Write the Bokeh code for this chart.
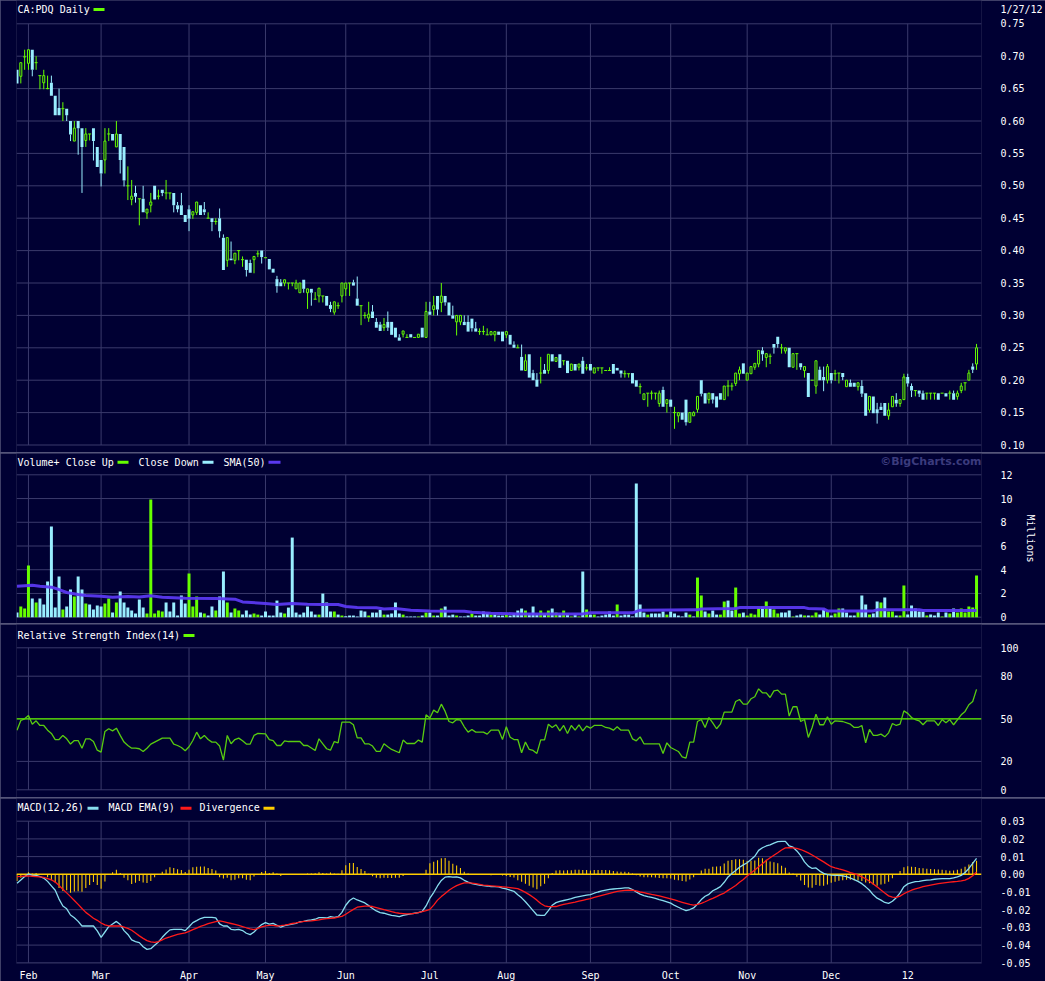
import numpy as np
from bokeh.plotting import figure
from bokeh.layouts import column
from bokeh.models import Range1d, FixedTicker, NumeralTickFormatter, Label, BoxAnnotation
from bokeh.embed import file_html
from bokeh.resources import INLINE

# ---------------- data ----------------
month_idx = [3, 22, 45, 65, 86, 108, 128, 150, 171, 191, 213, 233]
month_lab = ["Feb", "Mar", "Apr", "May", "Jun", "Jul", "Aug", "Sep", "Oct", "Nov", "Dec", "12"]
last_date = "1/27/12"

opens = [
.679,.669,.699,.689,.710,.690,.670,.659,.650,.659,
.639,.620,.619,.619,.600,.569,.600,.589,.570,.580,
.589,.560,.540,.540,.580,.580,.560,.580,.560,.500,
.479,.489,.480,.480,.458,.470,.500,.484,.494,.489,
.489,.489,.470,.470,.455,.464,.455,.459,.470,.464,
.450,.450,.445,.450,.420,.385,.388,.385,.400,.386,
.386,.381,.386,.395,.400,.389,.387,.372,.356,.351,
.350,.350,.350,.341,.335,.355,.335,.341,.325,.330,
.330,.330,.316,.305,.315,.330,.341,.350,.351,.326,
.315,.300,.296,.306,.290,.286,.281,.290,.290,.281,
.266,.271,.266,.271,.266,.266,.281,.266,.306,.309,
.330,.320,.330,.320,.300,.290,.290,.290,.290,.295,
.280,.275,.275,.270,.270,.270,.275,.275,.270,.270,
.255,.250,.236,.215,.240,.211,.201,.211,.216,.215,
.240,.229,.240,.230,.230,.215,.225,.220,.230,.219,
.225,.211,.219,.219,.215,.215,.225,.219,.215,.210,
.210,.211,.200,.190,.170,.180,.180,.180,.164,.185,
.164,.170,.150,.145,.150,.170,.135,.145,.155,.200,
.180,.170,.180,.175,.180,.170,.191,.191,.195,.210,
.226,.200,.210,.220,.225,.246,.235,.237,.256,.267,
.250,.245,.250,.220,.241,.226,.215,.211,.200,.191,
.216,.205,.200,.211,.210,.211,.211,.190,.196,.196,
.190,.191,.180,.154,.175,.155,.159,.165,.145,.159,
.170,.164,.170,.205,.191,.184,.184,.180,.180,.180,
.180,.180,.180,.180,.180,.180,.175,.184,.196,.200,
.221,.225]

highs = [
.679,.690,.710,.710,.710,.700,.670,.679,.670,.670,
.639,.650,.629,.619,.600,.600,.600,.589,.589,.580,
.589,.560,.540,.589,.589,.580,.600,.580,.560,.530,
.509,.500,.480,.500,.464,.489,.500,.494,.494,.509,
.489,.489,.475,.489,.455,.470,.460,.475,.470,.475,
.459,.450,.450,.465,.425,.420,.414,.396,.400,.391,
.386,.386,.391,.400,.400,.389,.387,.372,.361,.356,
.355,.350,.350,.355,.350,.355,.341,.341,.336,.342,
.330,.330,.321,.321,.320,.350,.350,.350,.355,.360,
.315,.305,.321,.316,.296,.290,.296,.306,.290,.281,
.271,.276,.271,.271,.266,.271,.281,.321,.321,.330,
.330,.350,.330,.320,.315,.300,.300,.300,.300,.295,
.290,.280,.284,.280,.275,.275,.275,.275,.275,.270,
.260,.255,.255,.240,.240,.216,.211,.236,.225,.240,
.240,.235,.240,.230,.230,.225,.225,.225,.236,.225,
.225,.219,.219,.219,.215,.220,.225,.219,.215,.215,
.210,.211,.200,.195,.179,.180,.184,.180,.184,.190,
.170,.170,.159,.150,.150,.170,.150,.152,.175,.200,
.180,.180,.180,.175,.180,.191,.200,.196,.211,.221,
.226,.211,.221,.226,.246,.251,.241,.241,.256,.267,
.256,.250,.250,.241,.241,.226,.221,.211,.200,.230,
.221,.221,.225,.211,.216,.211,.211,.200,.201,.196,
.196,.200,.180,.175,.175,.165,.165,.165,.165,.175,
.180,.170,.210,.210,.195,.184,.184,.184,.180,.180,
.180,.180,.180,.180,.184,.184,.184,.196,.196,.216,
.226,.256]

lows = [
.658,.658,.679,.679,.669,.679,.649,.649,.649,.639,
.609,.609,.600,.600,.569,.569,.548,.489,.560,.570,
.539,.529,.499,.519,.569,.570,.560,.519,.499,.478,
.470,.474,.439,.459,.449,.459,.479,.479,.484,.479,
.479,.459,.459,.455,.444,.430,.449,.455,.455,.455,
.450,.430,.440,.420,.370,.375,.385,.379,.385,.375,
.360,.366,.365,.390,.380,.389,.371,.366,.335,.345,
.345,.340,.345,.341,.335,.335,.310,.315,.325,.320,
.320,.315,.305,.301,.310,.320,.330,.330,.346,.315,
.285,.295,.290,.296,.281,.276,.276,.276,.270,.266,
.261,.266,.266,.266,.266,.266,.266,.266,.301,.300,
.300,.305,.315,.300,.295,.269,.285,.285,.275,.275,
.275,.270,.270,.270,.270,.260,.270,.260,.265,.255,
.250,.250,.215,.215,.204,.200,.190,.195,.210,.210,
.229,.229,.219,.223,.211,.215,.215,.215,.210,.215,
.215,.211,.214,.210,.215,.215,.210,.215,.204,.204,
.204,.195,.190,.179,.170,.159,.170,.170,.159,.159,
.150,.159,.125,.135,.139,.130,.135,.145,.150,.175,
.164,.164,.164,.158,.170,.170,.175,.184,.191,.200,
.210,.200,.210,.216,.220,.230,.220,.225,.241,.250,
.241,.241,.220,.220,.216,.216,.204,.174,.200,.179,
.200,.183,.195,.195,.199,.195,.200,.190,.190,.190,
.184,.174,.145,.150,.149,.133,.154,.145,.139,.159,
.159,.159,.170,.190,.174,.175,.174,.170,.170,.170,
.170,.170,.180,.175,.170,.170,.170,.180,.184,.200,
.211,.216]

closes = [
.658,.690,.699,.710,.679,.690,.670,.670,.650,.639,
.609,.609,.619,.609,.579,.589,.589,.560,.580,.580,
.569,.529,.519,.569,.580,.570,.580,.540,.508,.500,
.484,.483,.480,.459,.464,.475,.479,.484,.489,.489,
.489,.470,.464,.455,.444,.449,.460,.475,.455,.459,
.450,.444,.445,.430,.370,.420,.385,.396,.400,.386,
.370,.366,.391,.395,.390,.389,.371,.366,.345,.345,
.355,.350,.350,.350,.350,.341,.341,.335,.325,.342,
.330,.315,.310,.321,.315,.350,.350,.350,.346,.315,
.315,.300,.302,.296,.281,.276,.286,.281,.270,.266,
.261,.276,.266,.266,.266,.271,.266,.306,.301,.315,
.309,.330,.320,.300,.295,.300,.300,.285,.275,.280,
.275,.275,.275,.270,.275,.275,.270,.260,.275,.255,
.250,.250,.215,.230,.204,.200,.190,.211,.210,.240,
.229,.235,.219,.230,.211,.225,.215,.225,.210,.219,
.215,.219,.219,.219,.215,.215,.210,.215,.210,.210,
.210,.195,.190,.190,.179,.180,.180,.180,.180,.159,
.170,.159,.150,.150,.139,.135,.150,.150,.175,.179,
.164,.180,.170,.158,.170,.191,.191,.191,.211,.216,
.210,.211,.221,.226,.246,.240,.241,.237,.250,.256,
.250,.250,.220,.241,.241,.220,.221,.174,.200,.230,
.200,.200,.221,.200,.210,.211,.205,.200,.190,.190,
.196,.179,.145,.175,.149,.149,.154,.145,.154,.175,
.164,.170,.205,.195,.184,.184,.179,.170,.180,.180,
.180,.170,.180,.175,.180,.170,.180,.191,.196,.211,
.216,.250]

# volume in millions of shares
volume = [
.39,.90,.73,4.35,1.57,1.24,1.57,1.07,3.0,7.64,
.81,3.43,.65,.90,2.33,1.74,3.43,2.33,1.15,1.07,
.65,.98,.90,1.15,1.57,.39,1.24,2.16,1.24,.81,
.56,.31,1.49,.81,.31,9.92,.31,.56,.48,1.24,
.48,1.24,.14,1.83,1.15,3.68,.90,1.74,.39,.31,
.14,.90,.56,1.74,3.85,1.24,.39,.73,.56,.22,
.56,.22,.31,.22,.14,.48,.14,.14,1.40,.39,
.31,.81,6.71,.39,.22,.39,.90,.48,.22,.22,
1.99,1.24,.48,.48,.22,.14,.08,.14,.14,.06,
.56,.48,.14,.39,.39,.62,.22,.22,.31,1.24,
.31,.22,.06,.06,.06,.06,.14,.39,.39,.14,
.14,.73,.90,.14,.22,.14,.06,.06,.14,.31,
.14,.14,.48,.31,.22,.22,.14,.14,.22,.14,
.31,.56,.73,.56,.31,.90,.22,.56,.22,.56,
.73,.39,.22,.56,.22,.06,.22,.06,3.85,.65,
.22,.22,.06,.14,.22,.48,.14,1.07,.14,.22,
.22,.06,11.26,1.07,.39,.22,.31,.31,.31,.48,
.22,.48,.31,.14,.06,.39,.22,.06,3.34,1.83,
.48,.31,.56,.22,.22,1.32,1.40,.56,2.50,.31,
.39,.14,.31,.22,.81,.90,1.32,.81,.65,.31,
.39,.39,.56,.06,.14,.22,.14,.14,.14,.39,
.22,.65,.48,.14,.31,.73,.73,.39,.14,.14,
.48,1.83,1.07,.22,.31,1.32,1.24,1.66,.48,.48,
.14,.14,2.67,.22,.98,.73,.48,.48,.14,.22,
.14,.39,.06,.39,.31,.73,.39,.73,.39,.90,
.81,3.51]

# 50-day volume SMA, read at its turning points (day index, millions)
sma_day = [0, 4, 6, 9, 11, 13, 16, 18, 22, 25, 29, 32, 35, 38, 44, 52, 57, 59, 65, 68,
           72, 76, 80, 84, 86, 89, 94, 96, 99, 103, 108, 117, 119, 124, 131, 148, 150, 161, 163, 178,
           179, 188, 189, 206, 207, 211, 212, 224, 225, 236, 237, 251]
sma_val = [2.61, 2.70, 2.61, 2.53, 2.33, 2.08, 1.91, 1.83, 1.77, 1.69, 1.74, 1.71, 1.80, 1.69, 1.60, 1.57, 1.52, 1.29, 1.15, 1.07,
           1.15, 1.10, 1.07, 1.07, 0.90, 0.81, 0.79, 0.70, 0.73, 0.59, 0.53, 0.51, 0.42, 0.34, 0.28, 0.28, 0.37, 0.37, 0.59, 0.62,
           0.70, 0.73, 0.81, 0.81, 0.73, 0.70, 0.53, 0.53, 0.62, 0.62, 0.56, 0.56]

# RSI(14) vertices (day index, value)
rsi_day = [0,1,2,3,4,5,6,7,8,9, 10,11,12,13,14,15,16,17,18,19, 20,21,22,23,24,25,26,27,28,29,
           30,31,32,33,34,35,36,37,38,40, 41,42,43,44,45,46,47,48,49,50, 51,52,53,54,55,56,57,58,59,60,
           61,62,63,65,66,67,68,69,70,71, 74,75,76,78,79,80,81,82,83,84, 85,87,88,89,90,91,92,93,94,95,
           96,97,98,100,101,102,104,105,106,107, 108,109,110,111,112,113,114,115,116,117,
           118,119,120,122,123,124,126,127,128,129, 130,131,132,133,134,135,136,137,138,139,
           140,141,142,143,144,145,146,147,148,149, 150,151,153,154,155,156,157,158,160,161,
           162,163,164,168,169,170,171,173,174,175, 176,177,178,179,180,181,182,183,184,185,
           187,188,189,190,191,192,193,194,195,196, 197,198,199,200,201,202,203,204,205,206,
           207,208,209,210,211,212,213,214,216,218, 219,220,221,222,223,224,225,226,227,228,
           229,230,231,232,233,234,235,236,237,238, 240,241,242,243,244,245,247,248,249,250, 251]
rsi_val = [42.0,48.8,50.0,52.3,46.2,48.6,45.3,45.3,42.0,39.7, 35.4,35.4,38.3,35.9,32.2,34.7,34.7,29.3,35.9,35.9,
           34.0,27.9,26.5,41.1,43.0,41.5,43.4,38.3,33.6,31.2, 29.3,29.3,28.9,27.0,29.3,32.2,33.6,35.0,36.4,36.4,
           32.2,31.2,29.8,27.5,30.3,34.7,40.6,35.9,38.3,35.4, 33.6,33.6,30.8,20.9,38.3,32.4,35.4,36.4,34.5,32.2,
           32.2,38.3,39.7,39.4,35.4,34.7,31.2,31.2,34.5,34.0, 34.0,31.2,31.2,27.7,35.9,32.4,28.9,27.9,34.0,33.1,
           47.7,47.7,45.8,36.6,36.6,32.4,32.4,30.8,27.0,27.0, 32.4,30.3,28.4,26.1,35.0,32.6,32.6,35.0,33.6,52.8,
           50.5,56.1,54.2,60.3,55.2,48.1,47.2,49.5,49.1,44.4, 40.6,42.5,40.6,40.6,39.2,42.0,42.0,35.4,44.4,37.0,
           35.4,35.4,26.1,33.6,28.4,27.7,25.6,35.2,35.2,46.2, 43.9,45.8,41.5,45.3,39.7,45.3,42.0,45.8,41.5,44.8,
           43.4,45.3,45.3,43.9,43.4,42.0,44.4,42.0,42.0,35.9, 34.5,37.3,32.4,32.4,25.6,33.1,29.8,27.0,23.2,22.3,
           33.6,33.6,48.1,49.5,43.9,50.9,47.2,43.0,46.2,54.7, 54.7,62.2,63.6,60.3,60.3,64.1,65.5,71.1,68.3,68.3,
           65.0,69.7,70.2,67.4,67.4,51.9,58.5,58.5,48.1,49.5, 36.9,43.9,53.3,45.8,45.8,51.4,46.2,48.6,48.1,46.2,
           43.9,43.9,45.3,33.1,42.5,38.3,38.3,39.2,37.3,40.1, 46.7,45.3,46.2,55.6,53.8,50.9,49.5,48.6,45.8,48.6,
           48.6,45.3,49.5,47.2,49.5,45.8,52.8,55.2,59.9,62.2, 70.7]

# MACD(12,26) and its EMA(9), in thousandths
macd_k = [
-5.1,-3.2,-1.3,0.2,-0.6,-0.6,-1.3,-2.1,-4.0,-6.5,
-9.0,-14.0,-17.9,-19.5,-23.0,-24.5,-26.6,-29.2,-29.2,-29.2,
-29.2,-32.0,-35.6,-32.6,-29.6,-28.1,-26.6,-28.4,-31.8,-34.0,
-37.1,-38.0,-38.6,-40.9,-42.4,-42.0,-40.1,-38.2,-35.6,-33.3,
-31.4,-31.1,-31.1,-31.1,-31.8,-29.6,-27.3,-26.2,-25.0,-24.3,
-24.3,-24.3,-24.6,-28.0,-29.2,-29.2,-31.1,-31.4,-31.1,-31.8,
-33.3,-34.1,-32.6,-30.3,-28.4,-27.3,-28.1,-27.7,-28.8,-29.9,
-29.0,-28.6,-28.1,-27.7,-26.8,-26.6,-26.0,-25.8,-25.4,-24.5,
-24.5,-24.7,-23.9,-24.3,-23.9,-21.5,-17.5,-14.8,-13.4,-14.5,
-15.3,-16.2,-17.7,-19.3,-20.7,-21.6,-22.0,-22.6,-23.2,-23.5,
-23.9,-23.2,-22.8,-22.4,-22.0,-21.7,-21.0,-17.9,-13.5,-10.3,
-6.6,-3.5,-1.6,-1.3,-1.6,-1.4,-2.0,-3.4,-4.4,-5.3,
-5.7,-6.1,-6.4,-6.6,-7.0,-7.0,-7.1,-7.8,-8.2,-9.0,
-9.6,-11.5,-13.3,-15.5,-18.0,-20.5,-23.0,-23.2,-23.2,-20.5,
-17.5,-16.0,-15.3,-14.8,-14.3,-13.8,-13.1,-12.6,-12.2,-11.8,
-11.5,-10.7,-10.0,-9.4,-8.9,-8.5,-8.3,-8.1,-7.9,-7.7,
-7.7,-8.6,-10.0,-11.2,-12.0,-12.6,-13.1,-13.6,-14.3,-14.9,
-15.6,-16.3,-17.6,-18.6,-19.6,-20.5,-19.9,-19.0,-16.8,-14.3,
-12.4,-11.3,-9.3,-8.2,-7.0,-4.5,-1.5,0.4,2.2,4.0,
5.3,6.5,8.3,10.2,13.5,15.0,16.0,16.6,17.6,18.5,
18.6,18.6,16.0,15.3,13.2,10.5,7.0,4.6,3.3,3.6,
1.8,0.5,-0.2,-0.5,-0.6,-0.6,-0.9,-1.3,-2.1,-3.0,
-4.0,-5.3,-7.1,-9.0,-11.6,-13.5,-14.6,-15.9,-16.4,-15.2,
-13.2,-10.5,-7.0,-5.4,-4.7,-4.1,-4.0,-3.6,-3.3,-3.1,
-2.8,-2.6,-2.4,-2.4,-2.4,-2.0,-1.4,-0.6,1.0,3.3,
6.2,9.0]

signal_k = [
-1.3,-1.2,-1.0,-0.9,-1.1,-1.3,-1.5,-1.7,-2.4,-3.1,
-4.4,-6.3,-8.4,-10.5,-12.6,-14.8,-17.0,-19.3,-21.5,-23.1,
-24.8,-26.0,-27.5,-28.6,-29.2,-29.2,-29.2,-29.2,-29.8,-30.6,
-31.6,-33.2,-34.8,-36.2,-37.5,-38.2,-38.5,-38.0,-37.0,-36.0,
-35.4,-34.6,-34.0,-33.5,-33.1,-32.2,-31.3,-30.4,-29.4,-28.7,
-27.9,-27.3,-26.8,-26.3,-26.8,-27.3,-27.8,-28.3,-28.9,-29.5,
-30.2,-30.8,-31.3,-30.5,-29.7,-29.1,-28.8,-28.9,-29.2,-29.0,
-28.7,-28.3,-27.8,-27.5,-27.0,-26.6,-26.5,-26.3,-26.0,-25.7,
-25.3,-25.1,-24.9,-24.7,-24.2,-23.8,-22.6,-21.2,-19.8,-18.6,
-18.3,-18.0,-18.0,-18.2,-18.8,-19.4,-20.0,-20.5,-21.1,-21.6,
-22.0,-22.2,-22.4,-22.3,-22.1,-21.7,-21.1,-20.5,-19.8,-17.4,
-14.6,-12.6,-10.8,-9.0,-7.6,-6.4,-5.5,-4.8,-4.8,-5.0,
-5.3,-5.7,-6.1,-6.3,-6.5,-6.7,-6.9,-7.1,-7.3,-7.5,
-7.8,-8.1,-9.1,-10.2,-11.5,-13.0,-14.6,-16.5,-17.8,-18.3,
-18.3,-18.2,-17.6,-17.0,-16.6,-16.1,-15.7,-15.2,-14.7,-14.2,
-13.7,-13.1,-12.5,-11.9,-11.3,-10.8,-10.2,-9.7,-9.4,-9.1,
-8.9,-9.0,-9.4,-10.0,-10.4,-10.9,-11.4,-11.8,-12.2,-12.7,
-13.3,-13.9,-14.5,-15.2,-15.8,-16.4,-17.0,-17.4,-17.0,-16.4,
-15.5,-14.5,-13.6,-12.6,-11.5,-10.6,-9.1,-7.7,-6.3,-4.5,
-2.9,-1.0,0.7,2.4,4.2,6.0,7.8,9.3,10.8,12.2,
13.7,14.9,15.0,14.9,14.6,14.0,13.1,12.1,10.9,9.6,
8.3,7.0,5.6,4.3,3.6,3.0,2.5,1.8,1.0,0.4,
-0.5,-1.5,-2.5,-3.9,-5.5,-7.1,-8.9,-10.6,-12.2,-12.9,
-13.0,-12.3,-11.0,-9.9,-9.0,-8.2,-7.6,-7.0,-6.5,-6.1,
-5.7,-5.3,-5.0,-4.7,-4.4,-4.2,-4.0,-3.7,-3.3,-2.3,
-0.8,1.3]

price_ticks = [0.10, 0.15, 0.20, 0.25, 0.30, 0.35, 0.40, 0.45, 0.50, 0.55, 0.60, 0.65, 0.70, 0.75]
vol_ticks = [0, 2, 4, 6, 8, 10, 12]
rsi_ticks = [0, 20, 50, 80, 100]
rsi_grid = [0, 20, 80, 100]
macd_ticks = [-0.05, -0.04, -0.03, -0.02, -0.01, 0.0, 0.01, 0.02, 0.03]

# ---------------- styling ----------------
BG = "#000033"
GRID = "#3a3a6c"
SEP = "#55557a"
TEXT = "#ffffff"
FONT = "DejaVu Sans Mono"
GREEN = "#66ff00"
CYAN = "#99eeff"
PURPLE = "#5a38f0"
RSI_COL = "#58cc10"
MACD_COL = "#88ddee"
SIG_COL = "#ff1a1a"
GOLD = "#ffcc00"
WATERMARK = "#3b3b7d"

W = 1045
BL, BR = 16, 64
FW = W - BL - BR          # 965 px frame
X_START, X_END = -0.13, 252.3
PX = FW / (X_END - X_START)


def xd(px):
    return X_START + (px - BL) / PX


def make_fig(height, top, ppu, mbb=0, xaxis=False):
    fh = height - mbb
    bottom = top - fh / ppu
    p = figure(width=W, height=height, frame_width=FW, frame_height=fh,
               x_range=Range1d(X_START, X_END), y_range=Range1d(bottom, top),
               output_backend="svg", toolbar_location=None,
               x_axis_location="below" if xaxis else None, y_axis_location="right",
               min_border_left=BL, min_border_right=BR, min_border_top=0, min_border_bottom=mbb,
               background_fill_color=BG, border_fill_color=BG, outline_line_color=None, title=None)
    p.grid.visible = False
    ax = p.yaxis[0]
    ax.axis_line_color = None
    ax.major_tick_line_color = None
    ax.minor_tick_line_color = None
    ax.major_label_text_color = TEXT
    ax.major_label_text_font = FONT
    ax.major_label_text_font_size = "10px"
    ax.major_label_standoff = 13
    return p


def add_grid(p, yticks, ylo, yhi):
    p.segment(x0=[X_START] * len(yticks), x1=[X_END] * len(yticks), y0=yticks, y1=yticks,
              line_color=GRID, line_width=1)
    n = len(month_idx)
    p.segment(x0=month_idx, x1=month_idx, y0=[ylo] * n, y1=[yhi] * n, line_color=GRID, line_width=1)


def yconv(top, ppu):
    return lambda fy: top - fy / ppu


def add_text(p, X, fy, text, yv, color=TEXT, align="left", font=FONT, style="normal", size="10px"):
    p.add_layout(Label(x=xd(X), y=yv(fy), text=text, text_font=font, text_font_size=size,
                       text_color=color, text_baseline="middle", text_align=align,
                       text_font_style=style))


def add_swatch(p, X0, X1, fy, color, yv):
    p.add_layout(BoxAnnotation(left=xd(X0), right=xd(X1), top=yv(fy - 1.5), bottom=yv(fy + 1.5),
                               fill_color=color, fill_alpha=1.0, line_alpha=0.0))


N = min(len(opens), len(highs), len(lows), len(closes), len(volume), len(macd_k), len(signal_k))
idx = np.arange(N)
o = np.array(opens[:N]); h = np.array(highs[:N]); l = np.array(lows[:N]); c = np.array(closes[:N])
vol = np.array(volume[:N])

# ---------------- price panel (page y 0-451) ----------------
P_PPU = 648.0
P_TOP = 0.75 + 23.3 / P_PPU
P_H = 452
p1 = make_fig(P_H, P_TOP, P_PPU)
yv1 = yconv(P_TOP, P_PPU)
add_grid(p1, price_ticks, min(price_ticks), max(price_ticks))
date_tick = round(yv1(9.2), 5)
p1.yaxis[0].ticker = FixedTicker(ticks=price_ticks + [date_tick])
p1.yaxis[0].formatter = NumeralTickFormatter(format="0.00")
p1.yaxis[0].major_label_overrides = {date_tick: last_date}

up = c >= o
doji = np.isclose(c, o)
body_hi = np.maximum(o, c)
body_lo = np.minimum(o, c)
cols = [GREEN if u else CYAN for u in up]
p1.segment(x0=idx, x1=idx, y0=h, y1=body_hi, line_color=cols, line_width=1)
p1.segment(x0=idx, x1=idx, y0=body_lo, y1=l, line_color=cols, line_width=1)
gb = up & ~doji
p1.vbar(x=idx[gb], top=body_hi[gb], bottom=body_lo[gb], width=0.52,
        fill_color=BG, line_color=GREEN, line_width=1)
cb = ~up
p1.vbar(x=idx[cb], top=body_hi[cb], bottom=body_lo[cb], width=0.78,
        fill_color=CYAN, line_color=None)
p1.segment(x0=idx[doji] - 0.4, x1=idx[doji] + 0.4, y0=c[doji], y1=c[doji], line_color=GREEN, line_width=1)

add_text(p1, 17, 9.3, "CA:PDQ Daily", yv1)
add_swatch(p1, 93, 104, 9.0, GREEN, yv1)

# ---------------- volume panel (page y 453-622) ----------------
V_PPU = 142.4 / 12.0
V_TOP = 12 + 21.3 / V_PPU
V_H = 170
p2 = make_fig(V_H, V_TOP, V_PPU)
yv2 = yconv(V_TOP, V_PPU)
add_grid(p2, vol_ticks, 0, 12)
va = p2.yaxis[0]
va.ticker = FixedTicker(ticks=vol_ticks)
va.axis_label = "Millions"
va.axis_label_text_font = FONT
va.axis_label_text_font_size = "10px"
va.axis_label_text_font_style = "normal"
va.axis_label_text_color = TEXT
va.axis_label_standoff = 9

prev = np.concatenate([[c[0]], c[:-1]])
vol_up = c > prev
vcols = [GREEN if u else CYAN for u in vol_up]
p2.vbar(x=idx, top=vol, bottom=0, width=0.78, fill_color=vcols, line_color=None)
p2.line(sma_day, sma_val, line_color=PURPLE, line_width=3, line_alpha=0.95)

add_text(p2, 17, 9.0, "Volume+ Close Up", yv2)
add_swatch(p2, 117, 128, 8.7, GREEN, yv2)
add_text(p2, 138, 9.0, "Close Down", yv2)
add_swatch(p2, 202, 213, 8.7, CYAN, yv2)
add_text(p2, 223, 9.0, "SMA(50)", yv2)
add_swatch(p2, 268, 280, 8.7, PURPLE, yv2)
add_text(p2, 981, 8.3, "\u00a9BigCharts.com", yv2, color=WATERMARK, align="right",
         font="DejaVu Sans", style="bold", size="11px")

# ---------------- RSI panel (page y 624-796) ----------------
R_PPU = 1.42
R_TOP = 100 + 23.3 / R_PPU
R_H = 173
p3 = make_fig(R_H, R_TOP, R_PPU)
yv3 = yconv(R_TOP, R_PPU)
add_grid(p3, rsi_grid, 0, 100)
p3.yaxis[0].ticker = FixedTicker(ticks=rsi_ticks)
p3.segment(x0=[X_START], x1=[X_END], y0=[50], y1=[50], line_color=GREEN, line_width=1.2)
nr = min(len(rsi_day), len(rsi_val))
p3.line(rsi_day[:nr], rsi_val[:nr], line_color=RSI_COL, line_width=1.3)
add_text(p3, 17, 10.5, "Relative Strength Index(14)", yv3)
add_swatch(p3, 183, 194, 11.0, GREEN, yv3)

# ---------------- MACD panel (page y 798-980) ----------------
M_PPU = 141.6 / 0.08
M_TOP = 0.03 + 22.7 / M_PPU
M_H, M_MB = 183, 18
p4 = make_fig(M_H, M_TOP, M_PPU, mbb=M_MB, xaxis=True)
yv4 = yconv(M_TOP, M_PPU)
add_grid(p4, [t for t in macd_ticks if t != 0.0], -0.05, 0.03)
p4.yaxis[0].ticker = FixedTicker(ticks=macd_ticks)
p4.yaxis[0].formatter = NumeralTickFormatter(format="0.00")
xa = p4.xaxis[0]
xa.ticker = FixedTicker(ticks=month_idx)
xa.major_label_overrides = {m: s for m, s in zip(month_idx, month_lab)}
xa.axis_line_color = None
xa.major_tick_line_color = None
xa.minor_tick_line_color = None
xa.major_label_text_color = TEXT
xa.major_label_text_font = FONT
xa.major_label_text_font_size = "10px"
xa.major_label_standoff = 0

macd = np.array(macd_k[:N]) / 1000.0
sig = np.array(signal_k[:N]) / 1000.0
hist = macd - sig
p4.vbar(x=idx, top=hist, bottom=0, width=0.28, fill_color=GOLD, line_color=None)
p4.segment(x0=[X_START], x1=[X_END], y0=[0], y1=[0], line_color=GOLD, line_width=1.5)
p4.line(idx, macd, line_color=MACD_COL, line_width=1.3)
p4.line(idx, sig, line_color=SIG_COL, line_width=1.3)
add_text(p4, 17, 9.2, "MACD(12,26)", yv4)
add_swatch(p4, 87, 98, 9.7, MACD_COL, yv4)
add_text(p4, 108, 9.2, "MACD EMA(9)", yv4)
add_swatch(p4, 180, 191, 9.7, SIG_COL, yv4)
add_text(p4, 199, 9.2, "Divergence", yv4)
add_swatch(p4, 263, 274, 9.7, GOLD, yv4)

extra = {}
try:
    from bokeh.models import GlobalInlineStyleSheet
    extra["stylesheets"] = [GlobalInlineStyleSheet(css="body { background: #000033; }")]
except Exception:
    pass

layout = column(p1, p2, p3, p4, spacing=1, styles={"background-color": SEP}, **extra)

open("out.html", "w").write(file_html(layout, INLINE))
